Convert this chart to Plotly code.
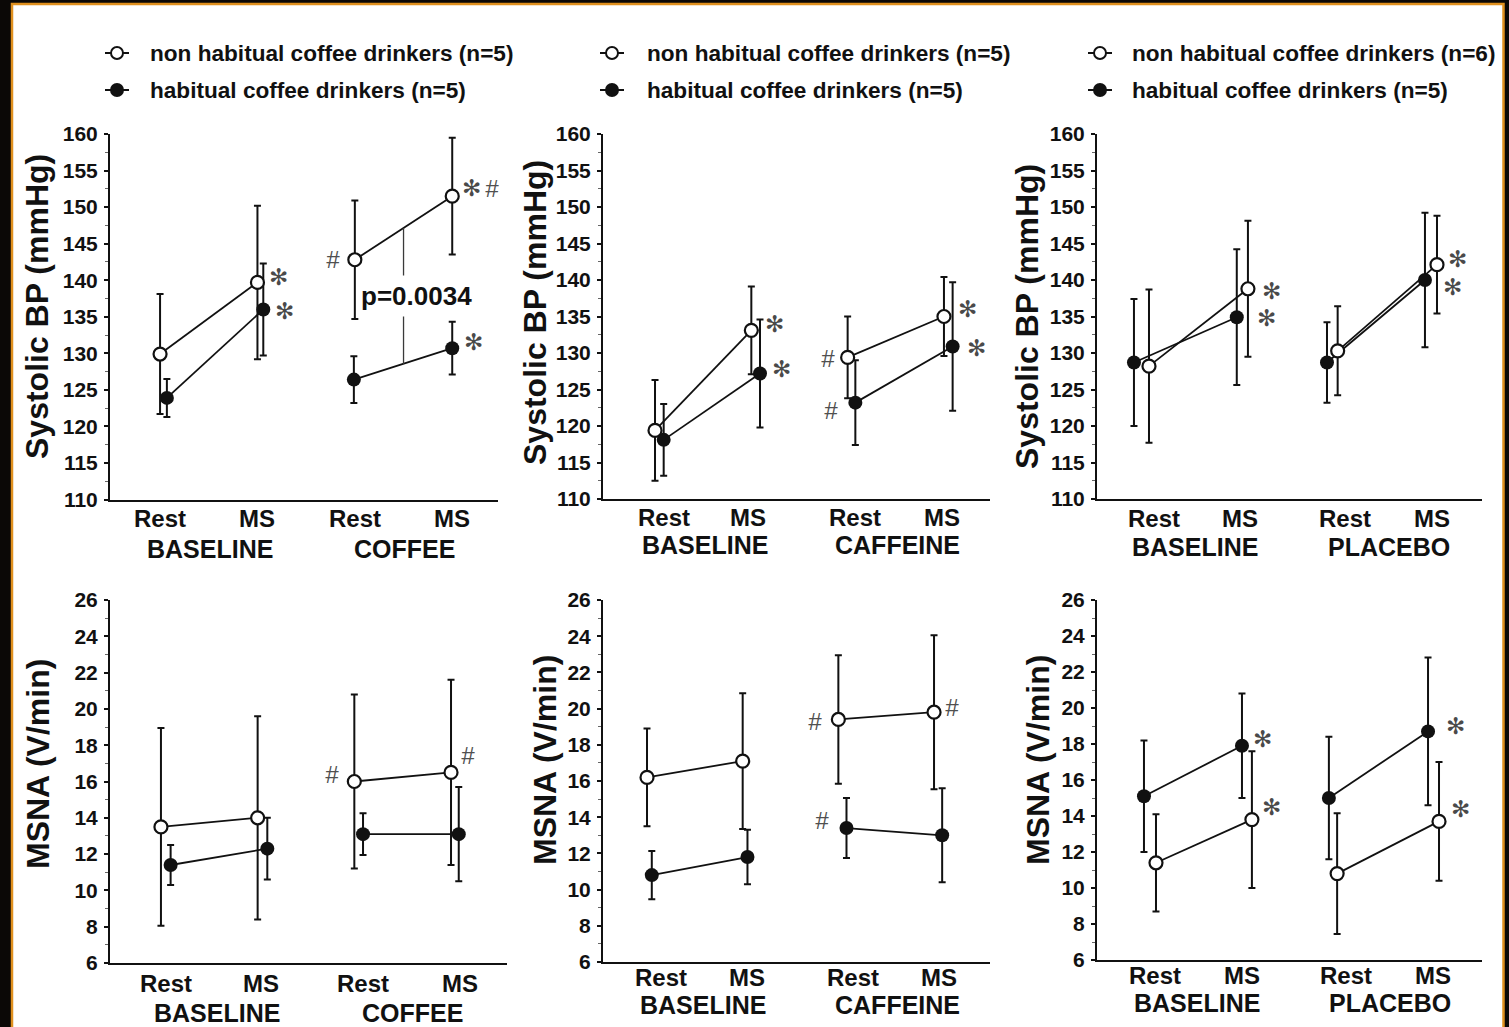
import plotly.graph_objects as go

W, H = 1509, 1027
FONT = "Liberation Sans, Arial, Helvetica, sans-serif"
STAR_FONT = "DejaVu Sans, sans-serif"
INK = "#111111"
GREY = "#3a3a3a"

# ---------------- data ----------------
CAT_X = [1, 2, 3, 4]
TICK_TEXT = ["Rest", "MS", "Rest", "MS"]
GROUPS_COFFEE = ["BASELINE", "COFFEE"]
GROUPS_CAFF = ["BASELINE", "CAFFEINE"]
GROUPS_PLAC = ["BASELINE", "PLACEBO"]

LEGEND_NON = ["non habitual coffee drinkers (n=5)",
              "non habitual coffee drinkers (n=5)",
              "non habitual coffee drinkers (n=6)"]
LEGEND_HAB = ["habitual coffee drinkers (n=5)",
              "habitual coffee drinkers (n=5)",
              "habitual coffee drinkers (n=5)"]

SBP_TITLE = "Systolic BP (mmHg)"
MSNA_TITLE = "MSNA (V/min)"

# Systolic BP (mmHg): Rest, MS (baseline) | Rest, MS (treatment)
sbp_coffee_non = [129.9, 139.7, 142.8, 151.5]
sbp_coffee_non_sd = [8.2, 10.5, 8.1, 8.0]
sbp_coffee_hab = [123.9, 136.0, 126.4, 130.7]
sbp_coffee_hab_sd = [2.6, 6.3, 3.2, 3.6]

sbp_caff_non = [119.4, 133.1, 129.4, 135.0]
sbp_caff_non_sd = [6.9, 6.0, 5.6, 5.4]
sbp_caff_hab = [118.1, 127.2, 123.2, 130.9]
sbp_caff_hab_sd = [4.9, 7.4, 5.8, 8.8]

sbp_plac_non = [128.2, 138.8, 130.3, 142.1]
sbp_plac_non_sd = [10.5, 9.3, 6.1, 6.7]
sbp_plac_hab = [128.7, 134.9, 128.7, 140.0]
sbp_plac_hab_sd = [8.7, 9.3, 5.5, 9.2]

# MSNA (V/min)
msna_coffee_non = [13.5, 14.0, 16.0, 16.5]
msna_coffee_non_sd = [5.45, 5.6, 4.8, 5.1]
msna_coffee_hab = [11.4, 12.3, 13.1, 13.1]
msna_coffee_hab_sd = [1.1, 1.7, 1.15, 2.6]

msna_caff_non = [16.2, 17.1, 19.4, 19.8]
msna_caff_non_sd = [2.7, 3.75, 3.55, 4.25]
msna_caff_hab = [10.8, 11.8, 13.4, 13.0]
msna_caff_hab_sd = [1.33, 1.5, 1.66, 2.6]

msna_plac_non = [11.4, 13.8, 10.8, 13.7]
msna_plac_non_sd = [2.7, 3.8, 3.35, 3.3]
msna_plac_hab = [15.1, 17.9, 15.0, 18.7]
msna_plac_hab_sd = [3.1, 2.9, 3.4, 4.1]

P_VALUE_TEXT = "p=0.0034"

STAR = "\u273b"   # significance vs Rest
HASH = "#"        # significance vs baseline

# significance marks: (panel, series, point index, symbol)
SIG_MARKS = [
    (0, "non", 1, STAR), (0, "hab", 1, STAR), (0, "non", 3, STAR), (0, "non", 3, HASH),
    (0, "non", 2, HASH), (0, "hab", 3, STAR),
    (1, "non", 1, STAR), (1, "hab", 1, STAR), (1, "non", 2, HASH),
    (1, "hab", 2, HASH), (1, "non", 3, STAR), (1, "hab", 3, STAR),
    (2, "non", 1, STAR), (2, "hab", 1, STAR), (2, "non", 3, STAR), (2, "hab", 3, STAR),
    (3, "non", 2, HASH), (3, "non", 3, HASH),
    (4, "non", 2, HASH), (4, "non", 3, HASH), (4, "hab", 2, HASH),
    (5, "hab", 1, STAR), (5, "non", 1, STAR), (5, "hab", 3, STAR), (5, "non", 3, STAR),
]

# ---------------- layout constants (pixels / offsets) ----------------
SIG_OFFSETS = [  # (dx px, dy px) of mark centre from point centre, same order as SIG_MARKS
    (21, -5), (21, 2), (19, -8), (40, -8), (-22, 0), (21, -6),
    (23, -6), (21, -4), (-20, 1), (-24, 8), (24, -8), (24, 2),
    (24, 2), (30, 1), (21, -6), (28, 7),
    (-22, -7), (17, -17),
    (-23, 2), (18, -5), (-24, -8),
    (21, -7), (20, -13), (27, -5), (21, -12),
]

PANELS = [
    dict(non=sbp_coffee_non, non_sd=sbp_coffee_non_sd, hab=sbp_coffee_hab, hab_sd=sbp_coffee_hab_sd,
         groups=GROUPS_COFFEE, title=SBP_TITLE,
         xpx=(110, 498), ypx=(134, 499.5), xr=(0.486, 4.47), yr=(110, 160), dtick=5, mtick=2.5,
         non_dx=[0, 0, 0, 0], hab_dx=[0.07, 0.06, -0.01, 0],
         tickpos=[1.0, 2.0, 3.0, 4.0], grouppos=[1.515, 3.51], tdy=19, gdy=49,
         title_xy=(37, 307)),
    dict(non=sbp_caff_non, non_sd=sbp_caff_non_sd, hab=sbp_caff_hab, hab_sd=sbp_caff_hab_sd,
         groups=GROUPS_CAFF, title=SBP_TITLE,
         xpx=(603, 990), ypx=(134, 499), xr=(0.46, 4.478), yr=(110, 160), dtick=5, mtick=2.5,
         non_dx=[0, 0, 0, 0], hab_dx=[0.09, 0.09, 0.08, 0.09],
         tickpos=[1.09, 1.97, 3.08, 3.98], grouppos=[1.52, 3.52], tdy=18, gdy=45.5,
         title_xy=(535, 313)),
    dict(non=sbp_plac_non, non_sd=sbp_plac_non_sd, hab=sbp_plac_hab, hab_sd=sbp_plac_hab_sd,
         groups=GROUPS_PLAC, title=SBP_TITLE,
         xpx=(1097, 1482), ypx=(134, 499), xr=(0.619, 4.588), yr=(110, 160), dtick=5, mtick=2.5,
         non_dx=[0.155, 0.175, 0.10, 0.124], hab_dx=[0, 0.06, -0.01, 0],
         tickpos=[1.21, 2.09, 3.18, 4.07], grouppos=[1.63, 3.63], tdy=19, gdy=47.5,
         title_xy=(1027, 317)),
    dict(non=msna_coffee_non, non_sd=msna_coffee_non_sd, hab=msna_coffee_hab, hab_sd=msna_coffee_hab_sd,
         groups=GROUPS_COFFEE, title=MSNA_TITLE,
         xpx=(110, 507), ypx=(600, 963), xr=(0.473, 4.579), yr=(6, 26), dtick=2, mtick=1,
         non_dx=[0, 0, 0, 0], hab_dx=[0.10, 0.10, 0.09, 0.08],
         tickpos=[1.05, 2.03, 3.09, 4.09], grouppos=[1.58, 3.6], tdy=20, gdy=50,
         title_xy=(38, 764)),
    dict(non=msna_caff_non, non_sd=msna_caff_non_sd, hab=msna_caff_hab, hab_sd=msna_caff_hab_sd,
         groups=GROUPS_CAFF, title=MSNA_TITLE,
         xpx=(603, 990), ypx=(600, 962), xr=(0.54, 4.585), yr=(6, 26), dtick=2, mtick=1,
         non_dx=[0, 0, 0, 0], hab_dx=[0.05, 0.05, 0.085, 0.085],
         tickpos=[1.15, 2.05, 3.15, 4.05], grouppos=[1.59, 3.62], tdy=15.5, gdy=43,
         title_xy=(545, 760)),
    dict(non=msna_plac_non, non_sd=msna_plac_non_sd, hab=msna_plac_hab, hab_sd=msna_plac_hab_sd,
         groups=GROUPS_PLAC, title=MSNA_TITLE,
         xpx=(1097, 1482), ypx=(600, 960), xr=(0.504, 4.57), yr=(6, 26), dtick=2, mtick=1,
         non_dx=[0.127, 0.14, 0.04, 0.116], hab_dx=[0, 0.035, -0.047, 0],
         tickpos=[1.12, 2.04, 3.13, 4.05], grouppos=[1.56, 3.6], tdy=15.5, gdy=43,
         title_xy=(1038, 760)),
]

LEGEND_MARKER_X = [117, 612, 1100]
LEGEND_TEXT_X = [148, 645, 1130]
LEGEND_ROW_Y = [53, 90]


def px_x(p):
    return p / W


def px_y(p):
    return 1 - p / H


def gapped(vals, dx=None):
    if dx is None:
        return [vals[0], vals[1], None, vals[2], vals[3]]
    return [CAT_X[0] + dx[0], CAT_X[1] + dx[1], None, CAT_X[2] + dx[2], CAT_X[3] + dx[3]]


fig = go.Figure()
layout = {}
annotations = []
shapes = []

# white page with orange frame
shapes.append(dict(type="rect", xref="paper", yref="paper", layer="below",
                   x0=px_x(12), x1=px_x(1503.5), y0=-0.01, y1=px_y(4),
                   fillcolor="white", line=dict(color="#e0901e", width=2.5)))

for i, p in enumerate(PANELS):
    sfx = "" if i == 0 else str(i + 1)
    xa, ya = "x" + sfx, "y" + sfx
    # habitual (filled) first, then non habitual (open) on top
    for key, filled in (("hab", True), ("non", False)):
        marker = (dict(symbol="circle", size=14, color=INK, line=dict(width=0))
                  if filled else
                  dict(symbol="circle", size=13, color="white", line=dict(width=2.2, color=INK)))
        fig.add_trace(go.Scatter(
            x=gapped(None, p[key + "_dx"]), y=gapped(p[key]),
            mode="lines+markers", xaxis=xa, yaxis=ya, showlegend=False,
            name=(LEGEND_HAB if filled else LEGEND_NON)[i % 3],
            line=dict(color=INK, width=1.8), marker=marker,
            error_y=dict(type="data", array=gapped(p[key + "_sd"]), visible=True,
                         color=INK, thickness=2, width=3.5),
            cliponaxis=False,
        ))
    x0, x1 = p["xpx"]
    y0, y1 = p["ypx"]
    layout["xaxis" + sfx] = dict(
        domain=[px_x(x0), px_x(x1)], range=list(p["xr"]), anchor=ya, automargin=False,
        showline=True, linecolor=INK, linewidth=2, ticks="", showgrid=False, zeroline=False,
        showticklabels=False, fixedrange=True)
    layout["yaxis" + sfx] = dict(
        domain=[px_y(y1), px_y(y0)], range=list(p["yr"]), anchor=xa, automargin=False,
        showline=True, linecolor=INK, linewidth=2, ticks="outside", ticklen=4, tickwidth=1.5,
        tickcolor=INK, dtick=p["dtick"], tick0=p["yr"][0], showgrid=False, zeroline=False,
        minor=dict(ticks="outside", ticklen=3, tickwidth=1, tickcolor="#666", dtick=p["mtick"]),
        tickfont=dict(family=FONT, size=21, color=INK, weight="bold"),
        ticklabelstandoff=2, fixedrange=True)
    # category labels (Rest / MS) and group labels under the axis
    for tname, tx in zip(TICK_TEXT, p["tickpos"]):
        annotations.append(dict(text=tname, xref=xa, yref=ya + " domain", x=tx, y=0,
                                yanchor="middle", xanchor="center", yshift=-p["tdy"],
                                showarrow=False,
                                font=dict(family=FONT, size=24, color=INK, weight="bold")))
    for gname, gx in zip(p["groups"], p["grouppos"]):
        annotations.append(dict(text=gname, xref=xa, yref=ya + " domain", x=gx, y=0,
                                yanchor="middle", xanchor="center", yshift=-p["gdy"],
                                showarrow=False,
                                font=dict(family=FONT, size=25, color=INK, weight="bold")))
    # y-axis title
    tx, ty = p["title_xy"]
    annotations.append(dict(text=p["title"], xref="paper", yref="paper", x=px_x(tx), y=px_y(ty),
                            textangle=-90, xanchor="center", yanchor="middle", showarrow=False,
                            font=dict(family=FONT, size=32, color=INK, weight="bold")))

# significance marks
for (pi, key, idx, sym), (dxp, dyp) in zip(SIG_MARKS, SIG_OFFSETS):
    p = PANELS[pi]
    sfx = "" if pi == 0 else str(pi + 1)
    xv = CAT_X[idx] + p[key + "_dx"][idx]
    yv = p[key][idx]
    star = sym == STAR
    annotations.append(dict(
        text=sym, xref="x" + sfx, yref="y" + sfx, x=xv, y=yv,
        xanchor="center", yanchor="middle", xshift=dxp, yshift=-dyp,
        showarrow=False,
        font=(dict(family=STAR_FONT, size=23, color="#4a4a4a") if star else
              dict(family=FONT, size=24, color="#505050", style="italic"))))

# p-value bracket in the coffee panel
p0 = PANELS[0]
x_mid = (CAT_X[2] + CAT_X[3]) / 2
open_mid = (p0["non"][2] + p0["non"][3]) / 2
hab_mid = (p0["hab"][2] + p0["hab"][3]) / 2
p_center = (open_mid + hab_mid) / 2
P_GAP = 2.8
shapes.append(dict(type="line", xref="x", yref="y", x0=x_mid, x1=x_mid,
                   y0=open_mid, y1=p_center + P_GAP, line=dict(color=GREY, width=1.3)))
shapes.append(dict(type="line", xref="x", yref="y", x0=x_mid, x1=x_mid,
                   y0=p_center - P_GAP, y1=hab_mid, line=dict(color=GREY, width=1.3)))
annotations.append(dict(text=P_VALUE_TEXT, xref="x", yref="y", x=x_mid, y=p_center,
                        xanchor="center", yanchor="middle", xshift=13, showarrow=False,
                        font=dict(family=FONT, size=26, color=INK, weight="bold")))

# legends (one per column)
for c in range(3):
    mx = LEGEND_MARKER_X[c]
    for r, (label, filled) in enumerate(((LEGEND_NON[c], False), (LEGEND_HAB[c], True))):
        cy = LEGEND_ROW_Y[r]
        shapes.append(dict(type="line", xref="paper", yref="paper",
                           x0=px_x(mx - 12), x1=px_x(mx + 12), y0=px_y(cy), y1=px_y(cy),
                           line=dict(color=INK, width=2)))
        rad = 7 if filled else 6
        shapes.append(dict(type="circle", xref="paper", yref="paper",
                           xsizemode="pixel", ysizemode="pixel",
                           xanchor=px_x(mx), yanchor=px_y(cy),
                           x0=-rad, x1=rad, y0=-rad, y1=rad,
                           fillcolor=INK if filled else "white",
                           line=dict(color=INK, width=0 if filled else 2)))
        annotations.append(dict(text=label, xref="paper", yref="paper",
                                x=px_x(LEGEND_TEXT_X[c]), y=px_y(cy),
                                xanchor="left", yanchor="middle", showarrow=False,
                                font=dict(family=FONT, size=22.6, color=INK, weight="bold")))

fig.update_layout(
    template="none",
    width=W, height=H, margin=dict(l=0, r=0, t=0, b=0, pad=0, autoexpand=False),
    paper_bgcolor="#0b0806", plot_bgcolor="rgba(0,0,0,0)",
    showlegend=False, annotations=annotations, shapes=shapes,
    font=dict(family=FONT, color=INK),
    **layout,
)

fig.write_html("out.html", config={"displayModeBar": False})
